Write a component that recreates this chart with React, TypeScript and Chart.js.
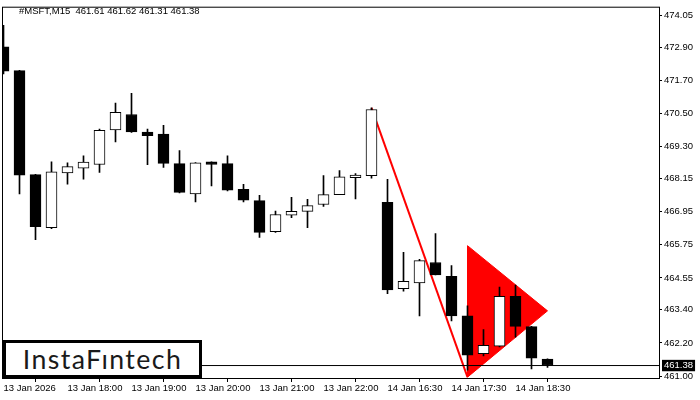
import React, { useEffect, useRef } from "react";
import { Chart, registerables } from "chart.js";

Chart.register(...registerables);

// ---- Data (M15 candles, MSFT) ----
const symbol = "#MSFT,M15";
const opens = [
  472.92, 472.06, 468.29, 466.37, 468.35, 468.53, 468.66, 469.91, 470.47, 469.83,
  469.76, 468.69, 467.59, 468.76, 468.69, 467.76, 467.35, 466.23, 466.82, 466.96,
  467.21, 467.57, 468.18, 468.25, 467.29, 464.16, 464.37, 465.11, 464.61, 463.18,
  461.81, 462.08, 463.89, 462.79, 461.61,
];
const highs = [
  473.70, 472.07, 468.30, 468.76, 468.72, 468.97, 469.94, 470.88, 471.24, 469.94,
  470.08, 469.16, 468.73, 468.76, 468.97, 467.94, 467.54, 466.97, 467.47, 467.40,
  468.26, 468.44, 468.33, 470.71, 468.12, 465.48, 465.23, 466.16, 465.00, 463.54,
  462.68, 464.22, 464.29, 462.80, 461.62,
];
const lows = [
  471.94, 467.59, 465.94, 466.34, 467.95, 468.13, 468.37, 469.48, 469.82, 468.65,
  468.55, 467.63, 467.30, 467.88, 467.70, 467.30, 466.02, 466.20, 466.73, 466.37,
  467.14, 467.57, 467.41, 468.16, 463.98, 464.07, 463.18, 464.66, 463.00, 461.21,
  461.73, 462.05, 462.41, 461.26, 461.31,
];
const closes = [
  472.04, 468.27, 466.41, 468.39, 468.58, 468.75, 469.90, 470.55, 469.84, 469.70,
  468.70, 467.65, 468.72, 468.66, 467.73, 467.37, 466.20, 466.85, 466.96, 467.17,
  467.57, 468.21, 468.28, 470.65, 464.12, 464.43, 465.18, 464.66, 463.18, 461.76,
  462.11, 463.89, 462.80, 461.65, 461.38,
];

// x-axis tick positions (candle index) and labels
const xTickIndices = [0, 4, 8, 12, 16, 20, 24, 28, 32];
const xTickLabels = [
  "13 Jan 2026", "13 Jan 18:00", "13 Jan 19:00", "13 Jan 20:00", "13 Jan 21:00",
  "13 Jan 22:00", "14 Jan 16:30", "14 Jan 17:30", "14 Jan 18:30",
];
// y-axis tick labels
const yTicks = [474.05, 472.90, 471.70, 470.50, 469.30, 468.15, 466.95, 465.75, 464.55, 463.40, 462.20, 461.00];
const lastPrice = 461.38;

// pattern: descending red pole line and bearish pennant triangle
const poleX = [23, 29];
const poleY = [470.71, 460.96];
const pennantX = [29, 34, 29, 29];
const pennantY = [465.72, 463.36, 460.96, 465.72];

// axis ranges
const xMin = -1 / 32;
const xMax = 41 - 1 / 32;
const yMin = 460.929;
const yMax = 474.336;

const FONT = "'Liberation Sans', Arial, sans-serif";

const framePlugin = {
  id: "frame",
  afterDraw(chart: any) {
    const { ctx, chartArea } = chart;
    ctx.save();
    ctx.strokeStyle = "#000";
    ctx.lineWidth = 1;
    ctx.strokeRect(
      chartArea.left - 0.5,
      chartArea.top - 0.5,
      chartArea.right - chartArea.left + 1,
      chartArea.bottom - chartArea.top + 1
    );
    ctx.restore();
  },
};

export default function App() {
  const ref = useRef<HTMLCanvasElement | null>(null);

  useEffect(() => {
    if (!ref.current) return;
    const idx = opens.map((_, i) => i);
    const bodyData = idx.map((i) => ({ x: i, y: [opens[i], closes[i]] }));
    const wickData = idx.map((i) => ({ x: i, y: [lows[i], highs[i]] }));
    const bodyColors = idx.map((i) => (closes[i] >= opens[i] ? "#ffffff" : "#000000"));

    const isLast = (ctx: any) => ctx && ctx.tick && Math.abs(ctx.tick.value - lastPrice) < 1e-9;

    const chart = new Chart(ref.current, {
      type: "bar",
      data: {
        datasets: [
          {
            type: "line",
            label: "price",
            data: [
              { x: xMin, y: lastPrice },
              { x: xMax, y: lastPrice },
            ],
            borderColor: "#000",
            borderWidth: 1,
            pointRadius: 0,
            order: 0,
          } as any,
          {
            type: "bar",
            label: "bodies",
            data: bodyData,
            backgroundColor: bodyColors,
            borderColor: "#000",
            borderWidth: 1,
            borderSkipped: false,
            barThickness: 11,
            grouped: false,
            order: 1,
          } as any,
          {
            type: "bar",
            label: "wicks",
            data: wickData,
            backgroundColor: "#000",
            borderWidth: 0,
            barThickness: 1,
            grouped: false,
            order: 2,
          } as any,
          {
            type: "line",
            label: "pole",
            data: poleX.map((x, i) => ({ x, y: poleY[i] })),
            borderColor: "#ff0000",
            borderWidth: 2,
            pointRadius: 0,
            order: 3,
          } as any,
          {
            type: "line",
            label: "pennant",
            data: pennantX.map((x, i) => ({ x, y: pennantY[i] })),
            borderColor: "#ff0000",
            backgroundColor: "#ff0000",
            borderWidth: 1,
            pointRadius: 0,
            fill: "shape",
            order: 4,
          } as any,
        ],
      },
      options: {
        responsive: false,
        maintainAspectRatio: false,
        animation: false,
        events: [],
        layout: { padding: { left: 3, top: 3, right: 0, bottom: 0 } },
        plugins: {
          legend: { display: false },
          tooltip: { enabled: false },
        },
        scales: {
          x: {
            type: "linear",
            min: xMin,
            max: xMax,
            offset: false,
            border: { display: false },
            grid: {
              display: true,
              drawOnChartArea: false,
              drawTicks: true,
              tickLength: 4,
              color: "#000",
            },
            ticks: {
              autoSkip: false,
              maxRotation: 0,
              minRotation: 0,
              align: "start",
              padding: 1,
              color: "#000",
              font: { family: FONT, size: 9.5 },
              callback: (v: any) => {
                const k = xTickIndices.indexOf(Number(v));
                return k >= 0 ? xTickLabels[k] : "";
              },
            },
            afterBuildTicks: (s: any) => {
              s.ticks = xTickIndices.map((v) => ({ value: v }));
            },
            afterFit: (s: any) => {
              s.height = 22;
            },
          },
          y: {
            type: "linear",
            position: "right",
            min: yMin,
            max: yMax,
            border: { display: false },
            grid: {
              display: true,
              drawOnChartArea: false,
              drawTicks: true,
              tickLength: 3,
              color: (ctx: any) => (isLast(ctx) ? "rgba(0,0,0,0)" : "#000"),
            },
            ticks: {
              autoSkip: false,
              padding: 2,
              color: (ctx: any) => (isLast(ctx) ? "#ffffff" : "#000000"),
              showLabelBackdrop: true,
              backdropColor: (ctx: any) => (isLast(ctx) ? "#000000" : "rgba(0,0,0,0)"),
              backdropPadding: { left: 2, right: 2, top: 0, bottom: 0 },
              font: { family: FONT, size: 9.5 },
              callback: (v: any) => Number(v).toFixed(2),
            },
            afterBuildTicks: (s: any) => {
              s.ticks = [...yTicks, lastPrice]
                .sort((a, b) => a - b)
                .map((v) => ({ value: v }));
            },
            afterFit: (s: any) => {
              s.width = 41;
            },
          },
        },
      } as any,
      plugins: [framePlugin],
    });
    return () => chart.destroy();
  }, []);

  const last = opens.length - 1;
  const header = `${symbol}  ${[opens[last], highs[last], lows[last], closes[last]]
    .map((v) => v.toFixed(2))
    .join(" ")}`;

  return (
    <div
      style={{
        position: "absolute",
        left: 0,
        top: 0,
        width: 700,
        height: 400,
        background: "#fff",
        overflow: "hidden",
      }}
    >
      <canvas ref={ref} width={700} height={400} style={{ display: "block" }} />
      <div
        style={{
          position: "absolute",
          left: 19,
          top: 5,
          font: `9.5px ${FONT}`,
          lineHeight: "12px",
          color: "#000",
          whiteSpace: "pre",
        }}
      >
        {header}
      </div>
      <div
        style={{
          position: "absolute",
          left: 3,
          top: 340,
          width: 199,
          height: 38,
          boxSizing: "border-box",
          border: "3px solid #000",
          background: "#fff",
          display: "flex",
          alignItems: "center",
          justifyContent: "center",
          fontFamily: "Lato, 'Open Sans', sans-serif",
          fontWeight: 400,
          fontSize: 26.7,
          letterSpacing: 1.4,
          color: "#1a1a1a",
          lineHeight: 1,
        }}
      >
        InstaFıntech
      </div>
    </div>
  );
}
